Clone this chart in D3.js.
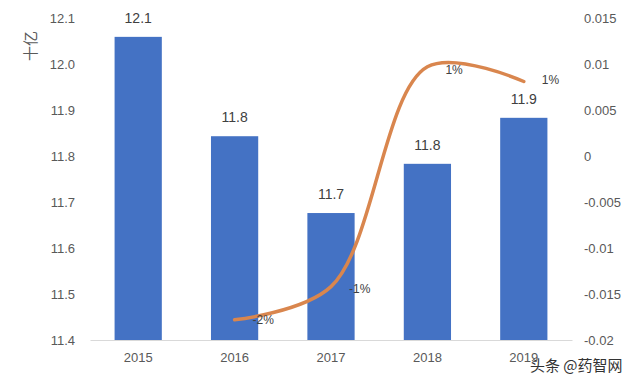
<!DOCTYPE html>
<head>
    <meta charset="utf-8">
    <script src="https://d3js.org/d3.v7.min.js"></script>
    <style>
        body { margin:0; background:#fff; }
        text { font-family: 'Liberation Sans', 'Noto Sans CJK SC', sans-serif; }
        .tick text { fill: #595959; font-size: 13px; }
        .bar { fill: #4472C4; }
        .growth { fill: none; stroke: #D9864E; stroke-width: 3.5; stroke-linecap: round; }
        .bar-label { fill: #404040; font-size: 14px; text-anchor: middle; }
        .pct-label { fill: #404040; font-size: 12px; }
        .unit { fill: #595959; font-size: 15px; }
        .mark { fill: #333; font-size: 15px; font-family: 'Noto Sans CJK SC', sans-serif; }
    </style>
</head>
<body>
<script>
    const years = ['2015', '2016', '2017', '2018', '2019'];
    const revenue = [12.059, 11.843, 11.676, 11.783, 11.883];
    const revenueLabels = ['12.1', '11.8', '11.7', '11.8', '11.9'];
    const growthYears = ['2016', '2017', '2018', '2019'];
    const growth = [-0.0178, -0.0142, 0.0097, 0.0081];
    const growthLabels = ['-2%', '-1%', '1%', '1%'];
    const leftTicks = [11.4, 11.5, 11.6, 11.7, 11.8, 11.9, 12.0, 12.1];
    const rightTicks = [-0.02, -0.015, -0.01, -0.005, 0, 0.005, 0.01, 0.015];

    const width = 640, height = 384;
    const m = {left: 90, right: 572, top: 18, bottom: 340};

    const svg = d3.select('body').append('svg')
        .attr('width', width)
        .attr('height', height);

    const x = d3.scaleBand().domain(years).range([m.left, m.right]).paddingInner(0.51).paddingOuter(0.255);
    const yL = d3.scaleLinear().domain([11.4, 12.1]).range([m.bottom, m.top]);
    const yR = d3.scaleLinear().domain([-0.02, 0.015]).range([m.bottom, m.top]);

    // axes
    const axL = svg.append('g')
        .attr('transform', `translate(${m.left - 12},0)`)
        .call(d3.axisLeft(yL).tickValues(leftTicks).tickFormat(d3.format('.1f')).tickSize(0));
    axL.select('.domain').remove();

    const axR = svg.append('g')
        .attr('transform', `translate(${m.right + 9},0)`)
        .call(d3.axisRight(yR).tickValues(rightTicks).tickFormat(d => d === 0 ? '0' : String(+d.toFixed(3))).tickSize(0));
    axR.select('.domain').remove();

    const axB = svg.append('g')
        .attr('transform', `translate(0,${m.bottom})`)
        .call(d3.axisBottom(x).tickSize(0).tickPadding(13));
    axB.select('.domain').attr('stroke', '#d9d9d9');

    // bars
    svg.append('g').selectAll('rect')
        .data(years)
        .join('rect')
        .attr('class', 'bar')
        .attr('x', d => x(d))
        .attr('width', x.bandwidth())
        .attr('y', (d, i) => yL(revenue[i]))
        .attr('height', (d, i) => m.bottom - yL(revenue[i]));

    svg.append('g').selectAll('text')
        .data(years)
        .join('text')
        .attr('class', 'bar-label')
        .attr('x', d => x(d) + x.bandwidth() / 2)
        .attr('y', (d, i) => yL(revenue[i]) - 14)
        .text((d, i) => revenueLabels[i]);

    // growth line
    const cx = d => x(d) + x.bandwidth() / 2;
    const line = d3.line()
        .x(d => cx(d))
        .y((d, i) => yR(growth[i]))
        .curve(d3.curveCatmullRom.alpha(0.5));

    svg.append('path')
        .datum(growthYears)
        .attr('class', 'growth')
        .attr('d', line);

    svg.append('g').selectAll('text')
        .data(growthYears)
        .join('text')
        .attr('class', 'pct-label')
        .attr('x', d => cx(d) + 18)
        .attr('y', (d, i) => yR(growth[i]) + [4, 6, 7, 3][i])
        .text((d, i) => growthLabels[i]);

    // unit label
    svg.append('text')
        .attr('class', 'unit')
        .attr('transform', 'translate(36,46) rotate(-90)')
        .attr('text-anchor', 'middle')
        .text('十亿');

    // watermark
    svg.append('text')
        .attr('class', 'mark')
        .attr('x', 530)
        .attr('y', 371)
        .text('头条 @药智网');
</script>
</body>
